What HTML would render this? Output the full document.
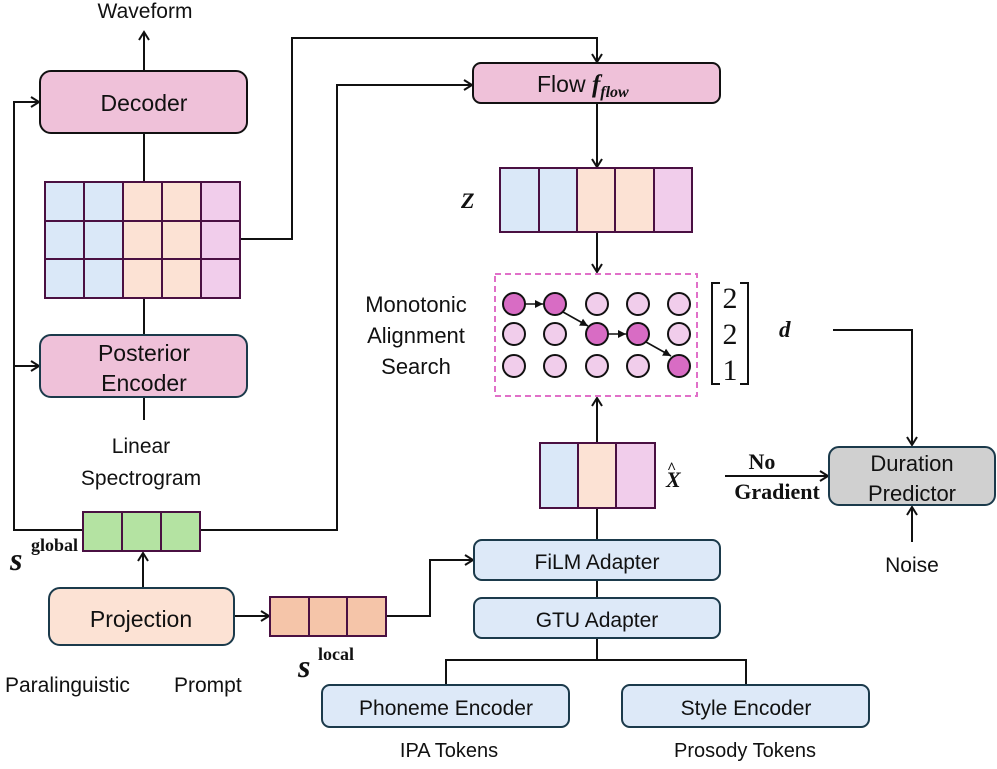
<!DOCTYPE html>
<html><head><meta charset="utf-8"><style>
body{margin:0;background:#fff}
text{font-family:"Liberation Sans","DejaVu Sans",sans-serif;fill:#111}
text.s{font-family:"Liberation Serif","DejaVu Serif",serif;font-weight:bold;font-style:italic}
text.r,tspan.r{font-family:"Liberation Serif","DejaVu Serif",serif}
text.rb{font-family:"Liberation Serif","DejaVu Serif",serif;font-weight:bold}
</style></head><body>
<svg width="997" height="764" viewBox="0 0 997 764" xmlns="http://www.w3.org/2000/svg">
<defs><marker id="a" markerWidth="12" markerHeight="12" refX="10" refY="6" orient="auto" markerUnits="userSpaceOnUse"><path d="M2,1 L10,6 L2,11" fill="none" stroke="#111" stroke-width="2"/></marker>
<marker id="b" markerWidth="10" markerHeight="10" refX="8" refY="5" orient="auto" markerUnits="userSpaceOnUse"><path d="M0,1 L8,5 L0,9Z" fill="#111"/></marker></defs>
<g fill="none" stroke="#111" stroke-width="2">
<line x1="144" y1="71" x2="144" y2="32" marker-end="url(#a)"/>
<line x1="144" y1="133" x2="144" y2="182"/>
<line x1="144" y1="298" x2="144" y2="335"/>
<line x1="144" y1="397" x2="144" y2="420"/>
<polyline points="83,530 14,530 14,102 39,102" marker-end="url(#a)"/>
<line x1="14" y1="366" x2="39" y2="366" marker-end="url(#a)"/>
<polyline points="200,530 337,530 337,85 472,85" marker-end="url(#a)"/>
<polyline points="240,239 292,239 292,38 597,38 597,62" marker-end="url(#a)"/>
<line x1="597" y1="103" x2="597" y2="167" marker-end="url(#a)"/>
<line x1="597" y1="232" x2="597" y2="272" marker-end="url(#a)"/>
<line x1="597" y1="443" x2="597" y2="398" marker-end="url(#a)"/>
<line x1="597" y1="508" x2="597" y2="540"/>
<polyline points="833,330 912,330 912,445" marker-end="url(#a)"/>
<line x1="725" y1="476" x2="828" y2="476" marker-end="url(#a)"/>
<line x1="912" y1="542" x2="912" y2="507" marker-end="url(#a)"/>
<line x1="143" y1="588" x2="143" y2="553" marker-end="url(#a)"/>
<line x1="235" y1="616" x2="269" y2="616" marker-end="url(#a)"/>
<polyline points="386,616 430,616 430,560 473,560" marker-end="url(#a)"/>
<line x1="597" y1="580" x2="597" y2="598"/>
<polyline points="597,638 597,660"/>
<polyline points="446,685 446,660 746,660 746,685"/>
</g>
<rect x="40" y="71" width="207" height="62" rx="11" fill="#efc1d9" stroke="#111" stroke-width="2"/>
<text x="144" y="111" font-size="23" text-anchor="middle">Decoder</text>
<g stroke="#4a1042" stroke-width="2">
<rect x="45" y="182" width="39" height="116" fill="#dae8f8"/><rect x="84" y="182" width="39" height="116" fill="#dae8f8"/>
<rect x="123" y="182" width="39" height="116" fill="#fce2d4"/><rect x="162" y="182" width="39" height="116" fill="#fce2d4"/>
<rect x="201" y="182" width="39" height="116" fill="#f1cdeb"/>
<line x1="45" y1="221" x2="240" y2="221"/><line x1="45" y1="259" x2="240" y2="259"/>
</g>
<rect x="40" y="335" width="207" height="62" rx="11" fill="#efc1d9" stroke="#1b3a4b" stroke-width="2"/>
<text x="144" y="361" font-size="23" text-anchor="middle">Posterior</text>
<text x="144" y="391" font-size="23" text-anchor="middle">Encoder</text>
<text x="141" y="453" font-size="21" text-anchor="middle">Linear</text>
<text x="141" y="485" font-size="21" text-anchor="middle">Spectrogram</text>
<text x="145" y="18" font-size="21" text-anchor="middle">Waveform</text>
<g stroke="#4a1042" stroke-width="2" fill="#b4e3a2">
<rect x="83" y="512" width="39" height="39"/><rect x="122" y="512" width="39" height="39"/><rect x="161" y="512" width="39" height="39"/></g>
<text x="10" y="570" class="s" font-size="32">s</text><text x="31" y="551" class="rb" font-size="18">global</text>
<rect x="49" y="588" width="185" height="57" rx="11" fill="#fce2d4" stroke="#1b3a4b" stroke-width="2"/>
<text x="141" y="627" font-size="23" text-anchor="middle">Projection</text>
<g stroke="#4a1042" stroke-width="2" fill="#f5c5a9">
<rect x="270" y="597" width="39" height="39"/><rect x="309" y="597" width="38" height="39"/><rect x="347" y="597" width="39" height="39"/></g>
<text x="298" y="677" class="s" font-size="32">s</text><text x="318" y="660" class="rb" font-size="18">local</text>
<text x="5" y="692" font-size="21">Paralinguistic</text><text x="174" y="692" font-size="21">Prompt</text>
<rect x="473" y="63" width="247" height="40" rx="8" fill="#efc1d9" stroke="#111" stroke-width="2"/>
<text x="537" y="92" font-size="23">Flow <tspan font-family="Liberation Serif, serif" font-weight="bold" font-style="italic" font-size="25">f</tspan><tspan font-family="Liberation Serif, serif" font-weight="bold" font-style="italic" font-size="16" dy="5">flow</tspan></text>
<g stroke="#4a1042" stroke-width="2">
<rect x="500" y="168" width="39" height="64" fill="#dae8f8"/><rect x="539" y="168" width="38" height="64" fill="#dae8f8"/>
<rect x="577" y="168" width="38" height="64" fill="#fce2d4"/><rect x="615" y="168" width="39" height="64" fill="#fce2d4"/>
<rect x="654" y="168" width="38" height="64" fill="#f1cdeb"/></g>
<text x="461" y="208" class="s" font-size="22">Z</text>
<rect x="495" y="274" width="202" height="122" fill="none" stroke="#e070c8" stroke-width="2" stroke-dasharray="6,4"/>
<text x="416" y="312" font-size="22" text-anchor="middle">Monotonic</text>
<text x="416" y="343" font-size="22" text-anchor="middle">Alignment</text>
<text x="416" y="374" font-size="22" text-anchor="middle">Search</text>
<g stroke="#111" stroke-width="2" fill="#f1cdeb">
<circle cx="514" cy="304" r="11" fill="#d86cc4"/><circle cx="555" cy="304" r="11" fill="#d86cc4"/><circle cx="597" cy="304" r="11"/><circle cx="638" cy="304" r="11"/><circle cx="679" cy="304" r="11"/>
<circle cx="514" cy="334" r="11"/><circle cx="555" cy="334" r="11"/><circle cx="597" cy="334" r="11" fill="#d86cc4"/><circle cx="638" cy="334" r="11" fill="#d86cc4"/><circle cx="679" cy="334" r="11"/>
<circle cx="514" cy="366" r="11"/><circle cx="555" cy="366" r="11"/><circle cx="597" cy="366" r="11"/><circle cx="638" cy="366" r="11"/><circle cx="679" cy="366" r="11" fill="#d86cc4"/>
</g>
<g stroke="#111" stroke-width="1.6">
<line x1="525" y1="304" x2="543" y2="304" marker-end="url(#b)"/>
<line x1="563" y1="312" x2="588" y2="326" marker-end="url(#b)"/>
<line x1="608" y1="334" x2="626" y2="334" marker-end="url(#b)"/>
<line x1="646" y1="342" x2="671" y2="356" marker-end="url(#b)"/>
</g>
<path d="M720,283 H712 V384 H720 M740,283 H748 V384 H740" fill="none" stroke="#111" stroke-width="2"/>
<text x="730" y="308" font-size="30" text-anchor="middle" class="r">2</text>
<text x="730" y="344" font-size="30" text-anchor="middle" class="r">2</text>
<text x="730" y="380" font-size="30" text-anchor="middle" class="r">1</text>
<text x="779" y="337" class="s" font-size="23">d</text>
<g stroke="#4a1042" stroke-width="2">
<rect x="540" y="443" width="38" height="65" fill="#dae8f8"/><rect x="578" y="443" width="38" height="65" fill="#fce2d4"/><rect x="616" y="443" width="39" height="65" fill="#f1cdeb"/></g>
<text x="666" y="487" class="s" font-size="22">X</text><text x="667" y="473" font-size="16" class="rb">^</text>
<text x="762" y="469" font-size="22" text-anchor="middle" class="rb">No</text>
<text x="777" y="499" font-size="22" text-anchor="middle" class="rb">Gradient</text>
<rect x="829" y="447" width="166" height="58" rx="10" fill="#d0d0d0" stroke="#1b3a4b" stroke-width="2"/>
<text x="912" y="471" font-size="22" text-anchor="middle">Duration</text>
<text x="912" y="501" font-size="22" text-anchor="middle">Predictor</text>
<text x="912" y="572" font-size="21" text-anchor="middle">Noise</text>
<rect x="474" y="540" width="246" height="40" rx="8" fill="#dde9f8" stroke="#1b3a4b" stroke-width="2"/>
<text x="597" y="569" font-size="21" text-anchor="middle">FiLM Adapter</text>
<rect x="474" y="598" width="246" height="40" rx="8" fill="#dde9f8" stroke="#1b3a4b" stroke-width="2"/>
<text x="597" y="627" font-size="21" text-anchor="middle">GTU Adapter</text>
<rect x="322" y="685" width="247" height="42" rx="8" fill="#dde9f8" stroke="#1b3a4b" stroke-width="2"/>
<text x="446" y="715" font-size="21" text-anchor="middle">Phoneme Encoder</text>
<rect x="622" y="685" width="247" height="42" rx="8" fill="#dde9f8" stroke="#1b3a4b" stroke-width="2"/>
<text x="746" y="715" font-size="21" text-anchor="middle">Style Encoder</text>
<text x="449" y="757" font-size="20" text-anchor="middle">IPA Tokens</text>
<text x="745" y="757" font-size="20" text-anchor="middle">Prosody Tokens</text>
</svg>
</body></html>
